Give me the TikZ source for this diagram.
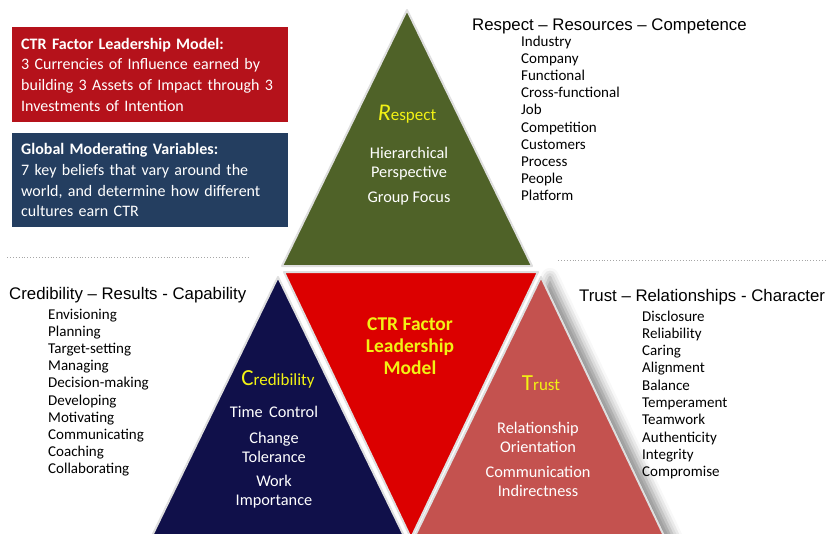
\documentclass[tikz,border=0pt]{standalone}
\usepackage{fontspec}
\setmainfont{Carlito}
\newfontfamily\arialf{Liberation Sans}
\usetikzlibrary{shadows.blur}
\definecolor{boxred}{RGB}{181,18,27}
\definecolor{boxblue}{RGB}{36,62,96}
\definecolor{olive}{RGB}{79,98,40}
\definecolor{navy}{RGB}{16,16,74}
\definecolor{ctrred}{RGB}{220,0,0}
\definecolor{trustred}{RGB}{196,82,79}
\definecolor{ylw}{RGB}{242,242,20}
\begin{document}
\begin{tikzpicture}[x=1pt,y=-1pt,
  infobox/.style={anchor=north west, text=white, align=left, text width=258pt,
    inner xsep=9pt, inner ysep=0pt, minimum width=276pt,
    font=\fontsize{16}{20.6}\selectfont},
  head/.style={anchor=base west, inner sep=0pt, font=\arialf\fontsize{16.8}{20}\selectfont},
  listitem/.style={anchor=base west, inner sep=0pt, font=\fontsize{15}{16}\selectfont},
  tri/.style={draw=gray!25, line width=2pt, line join=round},
  wtext/.style={text=white, align=center, inner sep=0pt, font=\fontsize{16.3}{19}\selectfont},
  ytext/.style={text=ylw, inner sep=0pt, font=\fontsize{17}{18}\selectfont},
  dots/.style={gray!70, dotted, line width=0.9pt}]
\useasboundingbox (0,0) rectangle (827,533);

% info boxes
\node[infobox, fill=boxred, minimum height=95pt] (redbox) at (12,27)
  {\textbf{CTR Factor Leadership Model:}\\3 Currencies of Influence earned by\\building 3 Assets of Impact through 3\\Investments of Intention};
\node[infobox, fill=boxblue, minimum height=94pt] (bluebox) at (12,133)
  {\textbf{Global Moderating Variables:}\\7 key beliefs that vary around the\\world, and determine how different\\cultures earn CTR};

% dotted separators
\coordinate (dl1) at (7,257);
\coordinate (dl2) at (248,257);
\coordinate (dr1) at (558,260);
\coordinate (dr2) at (827,260);
\draw[dots] (dl1) -- (dl2);
\draw[dots] (dr1) -- (dr2);

% triangles
\fill[trustred, blur shadow={shadow xshift=9pt, shadow yshift=0pt, shadow blur radius=9pt, shadow opacity=45}]
  (541,277) -- (414,538) -- (665,538) -- cycle;
\draw[tri] (541,277) -- (414,538) -- (665,538) -- cycle;
\draw[tri, fill=olive] (407,10) -- (282,266) -- (532,266) -- cycle;
\draw[tri, fill=ctrred] (284,272) -- (538,272) -- (411,538) -- cycle;
\draw[tri, fill=navy] (278,277) -- (151,538) -- (405,538) -- cycle;

% Respect triangle text
\node[ytext] (resp) at (407,114) {{\fontsize{24}{24}\selectfont\itshape R}espect};
\node[wtext] (hier) at (409,164) {Hierarchical\\Perspective};
\node[wtext] (group) at (409,199) {Group Focus};

% CTR
\node[text=ylw, align=center, inner sep=0pt, font=\bfseries\fontsize{19.5}{22}\selectfont] (ctr) at (410,346)
  {CTR Factor\\Leadership\\Model};

% Credibility triangle text
\node[ytext] (cred) at (278,379) {{\fontsize{23}{23}\selectfont C}redibility};
\node[wtext] (time) at (274,412) {Time\ \,Control};
\node[wtext] (change) at (274,447) {Change\\Tolerance};
\node[wtext] (work) at (274,492) {Work\\Importance};

% Trust triangle text
\node[ytext] (trust) at (541,383) {{\fontsize{23}{23}\selectfont T}rust};
\node[wtext] (rel) at (538,437) {Relationship\\Orientation};
\node[wtext] (comm) at (538,481) {Communication\\Indirectness};

% Respect list
\node[head] (resphead) at (472,30) {Respect – Resources – Competence};
\foreach \t [count=\i] in {Industry,Company,Functional,Cross-functional,Job,Competition,Customers,Process,People,Platform}
  \node[listitem] (rl\i) at (521,{46+17.2*(\i-1)}) {\t};

% Credibility list
\node[head] (credhead) at (9,299) {Credibility – Results - Capability};
\foreach \t [count=\i] in {Envisioning,Planning,Target-setting,Managing,Decision-making,Developing,Motivating,Communicating,Coaching,Collaborating}
  \node[listitem] (cl\i) at (48,{319+17.2*(\i-1)}) {\t};

% Trust list
\node[head] (trusthead) at (579,301) {Trust – Relationships - Character};
\foreach \t [count=\i] in {Disclosure,Reliability,Caring,Alignment,Balance,Temperament,Teamwork,Authenticity,Integrity,Compromise}
  \node[listitem] (tl\i) at (642,{321+17.3*(\i-1)}) {\t};
\end{tikzpicture}
\end{document}
